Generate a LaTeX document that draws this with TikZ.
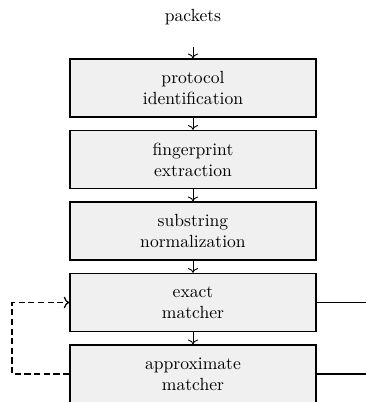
\documentclass[tikz,border=0pt]{standalone}
\usepackage{xcolor}
\usepackage{tikz}
\usetikzlibrary{arrows.meta, positioning}
\definecolor{boxfill}{RGB}{240, 240, 240}
\tikzset{
    stage/.style ={draw=black, line width=0.8pt, fill=boxfill,
                   minimum width=4.92cm, minimum height=1.16cm,
                   align=center, inner sep=0pt,
                   font=\fontsize{10}{12}\selectfont},
    lbl/.style   ={font=\fontsize{10}{12}\selectfont, inner sep=1pt},
    ar/.style    ={->, line width=0.5pt},
    fb/.style    ={->, line width=0.7pt, dash pattern=on 3.5pt off 2pt},
    outln/.style ={line width=0.8pt}
}

\begin{document}
\begin{tikzpicture}[x=1cm, y=1cm]
  \useasboundingbox (0,0) rectangle (7.32,-8.04);

  % ---- input
  \node[lbl] (pk) at (3.86,-0.34) {packets};
  \coordinate (in) at (3.86,-0.94);

  % ---- pipeline stages
  \node[stage] (s1) at (3.86,-1.76) {protocol\\identification};
  \node[stage] (s2) at (3.86,-3.19) {fingerprint\\extraction};
  \node[stage] (s3) at (3.86,-4.62) {substring\\normalization};
  \node[stage] (s4) at (3.86,-6.05) {exact\\matcher};
  \node[stage] (s5) at (3.86,-7.48) {approximate\\matcher};

  \draw[ar] (in) -- (s1.north);
  \draw[ar] (s1.south) -- (s2.north);
  \draw[ar] (s2.south) -- (s3.north);
  \draw[ar] (s3.south) -- (s4.north);
  \draw[ar] (s4.south) -- (s5.north);

  % ---- feedback from the approximate matcher
  \draw[fb] (s5.west) -- (0.24,-7.48) -- (0.24,-6.05) -- (s4.west);

  % ---- outputs
  \coordinate (o4) at (7.32,-6.05);
  \coordinate (o5) at (7.32,-7.48);
  \draw[outln] (s4.east) -- (o4);
  \draw[outln] (s5.east) -- (o5);
\end{tikzpicture}
\end{document}
